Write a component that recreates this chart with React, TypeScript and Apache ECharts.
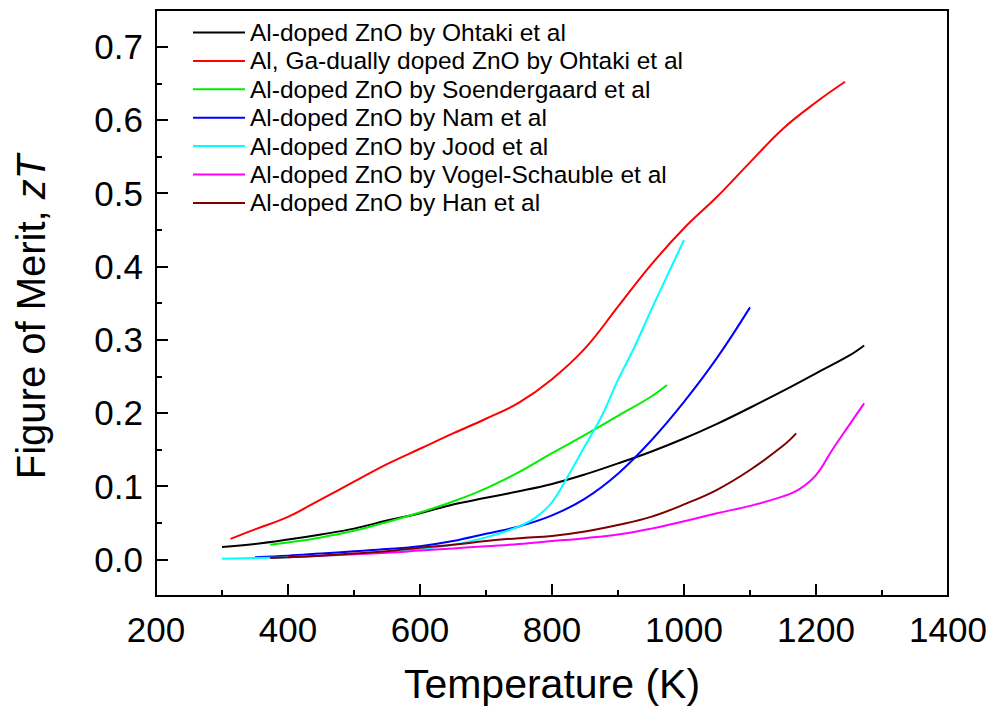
import React, { useEffect, useRef } from "react";
import * as echarts from "echarts";

const seriesNames = [
  "Al-doped ZnO by Ohtaki et al",
  "Al, Ga-dually doped ZnO by Ohtaki et al",
  "Al-doped ZnO by Soendergaard et al",
  "Al-doped ZnO by Nam et al",
  "Al-doped ZnO by Jood et al",
  "Al-doped ZnO by Vogel-Schauble et al",
  "Al-doped ZnO by Han et al",
];
const seriesColors = ["#000000", "#ff0000", "#00ee00", "#0000ff", "#00ffff", "#ff00ff", "#7f0000"];

// Temperature (K) and zT for each series
const ohtakiT = [300, 350, 400, 450, 500, 550, 600, 650, 700, 750, 800, 850, 900, 950, 1000, 1050, 1100, 1150, 1200, 1250, 1273];
const ohtakiZT = [0.017, 0.021, 0.027, 0.034, 0.042, 0.053, 0.063, 0.075, 0.084, 0.093, 0.103, 0.116, 0.131, 0.147, 0.165, 0.185, 0.207, 0.23, 0.254, 0.278, 0.292];

const dualT = [313, 350, 400, 450, 500, 550, 600, 650, 700, 750, 800, 850, 900, 950, 1000, 1050, 1100, 1150, 1200, 1244];
const dualZT = [0.028, 0.041, 0.058, 0.082, 0.106, 0.13, 0.151, 0.172, 0.192, 0.214, 0.246, 0.288, 0.345, 0.402, 0.452, 0.495, 0.542, 0.588, 0.624, 0.652];

const soenT = [373, 400, 450, 500, 550, 600, 650, 700, 750, 800, 850, 900, 950, 974];
const soenZT = [0.02, 0.023, 0.03, 0.039, 0.051, 0.064, 0.079, 0.097, 0.119, 0.145, 0.17, 0.196, 0.222, 0.238];

const namT = [350, 400, 450, 500, 550, 600, 650, 700, 750, 800, 850, 900, 950, 1000, 1050, 1100];
const namZT = [0.003, 0.005, 0.008, 0.011, 0.014, 0.018, 0.025, 0.035, 0.045, 0.06, 0.083, 0.117, 0.162, 0.215, 0.275, 0.344];

const joodT = [300, 350, 400, 450, 500, 550, 600, 650, 700, 750, 775, 800, 825, 850, 875, 900, 925, 950, 975, 1000];
const joodZT = [0.001, 0.002, 0.003, 0.005, 0.007, 0.01, 0.014, 0.02, 0.03, 0.045, 0.057, 0.078, 0.115, 0.155, 0.195, 0.245, 0.29, 0.34, 0.388, 0.436];

const vogelT = [400, 450, 500, 550, 600, 650, 700, 750, 800, 850, 900, 950, 1000, 1050, 1100, 1150, 1175, 1200, 1225, 1250, 1273];
const vogelZT = [0.003, 0.005, 0.007, 0.009, 0.012, 0.015, 0.018, 0.021, 0.025, 0.029, 0.034, 0.042, 0.052, 0.063, 0.073, 0.086, 0.096, 0.115, 0.15, 0.183, 0.213];

const hanT = [373, 400, 450, 500, 550, 600, 650, 700, 750, 800, 850, 900, 950, 1000, 1050, 1100, 1150, 1170];
const hanZT = [0.002, 0.003, 0.005, 0.008, 0.011, 0.016, 0.02, 0.025, 0.029, 0.032, 0.038, 0.047, 0.058, 0.075, 0.095, 0.122, 0.155, 0.172];

const allT = [ohtakiT, dualT, soenT, namT, joodT, vogelT, hanT];
const allZT = [ohtakiZT, dualZT, soenZT, namZT, joodZT, vogelZT, hanZT];

const yMajorTicks = [0, 0.1, 0.2, 0.3, 0.4, 0.5, 0.6, 0.7];
const yMinorTicks = [-0.05, 0.05, 0.15, 0.25, 0.35, 0.45, 0.55, 0.65, 0.75];

const FONT = "'Liberation Sans', Arial, sans-serif";

export default function App() {
  const ref = useRef<HTMLDivElement>(null);
  useEffect(() => {
    if (!ref.current) return;
    const chart = echarts.init(ref.current, undefined, { renderer: "svg" });
    const series = seriesNames.map((name, i) => ({
      name,
      type: "line",
      data: allT[i].map((t, j) => [t, allZT[i][j]]),
      symbol: "none",
      smooth: 0.4,
      lineStyle: { color: seriesColors[i], width: 2 },
      itemStyle: { color: seriesColors[i] },
    }));
    chart.setOption({
      animation: false,
      backgroundColor: "#ffffff",
      textStyle: { fontFamily: FONT },
      grid: {
        left: 156,
        right: 42,
        top: 10,
        bottom: 115,
        show: true,
        borderColor: "#000",
        borderWidth: 2,
      },
      legend: {
        orient: "vertical",
        left: 188,
        top: 15,
        icon: "rect",
        itemWidth: 52,
        itemHeight: 2,
        itemGap: 3.4,
        textStyle: { fontSize: 24.5, color: "#000", fontFamily: FONT },
        data: seriesNames,
      },
      xAxis: {
        type: "value",
        min: 200,
        max: 1400,
        interval: 200,
        name: "Temperature (K)",
        nameLocation: "middle",
        nameGap: 67,
        nameTextStyle: { fontSize: 41, color: "#000", fontFamily: FONT },
        axisLine: { onZero: false, lineStyle: { color: "#000", width: 2 } },
        axisTick: { inside: true, length: 12, lineStyle: { color: "#000", width: 2 } },
        minorTick: { show: true, splitNumber: 2, length: 6, lineStyle: { color: "#000", width: 2 } },
        axisLabel: {
          fontSize: 35,
          color: "#000",
          margin: 16,
          fontFamily: FONT,
          formatter: (v: number) => String(v),
        },
        splitLine: { show: false },
      },
      yAxis: [
        {
          type: "value",
          min: -0.05,
          max: 0.75,
          name: "Figure of Merit, {i|zT}",
          nameLocation: "middle",
          nameGap: 105,
          nameTextStyle: {
            fontSize: 40,
            color: "#000",
            fontFamily: FONT,
            padding: [0, 28, 0, 0],
            rich: { i: { fontSize: 40, fontStyle: "italic", color: "#000", fontFamily: FONT } },
          },
          axisLine: { onZero: false, lineStyle: { color: "#000", width: 2 } },
          axisTick: { inside: true, length: 12, customValues: yMajorTicks, lineStyle: { color: "#000", width: 2 } },
          axisLabel: {
            fontSize: 35,
            color: "#000",
            margin: 13,
            fontFamily: FONT,
            customValues: yMajorTicks,
            formatter: (v: number) => v.toFixed(1),
          },
          splitLine: { show: false },
        },
        {
          type: "value",
          min: -0.05,
          max: 0.75,
          position: "left",
          axisLine: { show: false, onZero: false },
          axisTick: { inside: true, length: 6, customValues: yMinorTicks, lineStyle: { color: "#000", width: 2 } },
          axisLabel: { show: false },
          splitLine: { show: false },
        },
      ],
      series,
    });
    return () => chart.dispose();
  }, []);
  return <div ref={ref} style={{ width: 990, height: 711, position: "absolute", left: 0, top: 0 }} />;
}
